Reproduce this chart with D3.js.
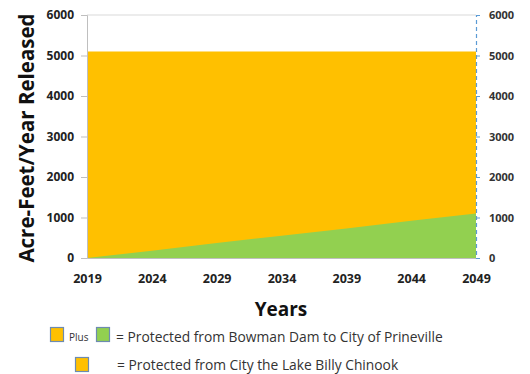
<!DOCTYPE html>
<html><head><meta charset="utf-8">
<script src="https://cdn.jsdelivr.net/npm/d3@7"></script>
<style>body{margin:0;background:#fff}svg{display:block}</style>
</head><body>
<svg id="c" width="530" height="374"></svg>
<script>
const years = [2019, 2024, 2029, 2034, 2039, 2044, 2049];
const totalReleased = [5100, 5100, 5100, 5100, 5100, 5100, 5100];
const bowmanToPrineville = [0, 180, 370, 550, 730, 920, 1100];
const yTicks = [0, 1000, 2000, 3000, 4000, 5000, 6000];
const xTickLabels = ["2019", "2024", "2029", "2034", "2039", "2044", "2049"];
const legendLabels = ["= Protected from Bowman Dam to City of Prineville", "= Protected from City the Lake Billy Chinook"];

const svg = d3.select("#c");
const L = 87, R = 476, T = 15, B = 258;
const x = d3.scaleLinear().domain([2019, 2049]).range([L, R]);
const y = d3.scaleLinear().domain([0, 6000]).range([B, T]);
const font = "'Open Sans', sans-serif";
const orange = "#FFC000", green = "#92D050";

const data = years.map((yr, i) => ({yr, total: totalReleased[i], green: bowmanToPrineville[i]}));

// top gridline
svg.append("line").attr("x1", L).attr("x2", R).attr("y1", y(6000)).attr("y2", y(6000)).attr("stroke", "#d9d9d9");

svg.append("path").datum(data)
  .attr("d", d3.area().x(d => x(d.yr)).y0(y(0)).y1(d => y(d.total)))
  .attr("fill", orange);
svg.append("path").datum(data)
  .attr("d", d3.area().x(d => x(d.yr)).y0(y(0)).y1(d => y(d.green)))
  .attr("fill", green);

// left axis
const ya = svg.append("g").attr("transform", `translate(${L},0)`)
  .call(d3.axisLeft(y).tickValues(yTicks).tickFormat(d3.format("d")).tickSize(6).tickPadding(7));
ya.select(".domain").attr("stroke", "#bfbfbf");
ya.selectAll(".tick line").attr("stroke", "#bfbfbf");
ya.selectAll("text").attr("font-family", font).attr("font-weight", "bold").attr("font-size", 12).attr("fill", "#222");

// bottom axis
const xa = svg.append("g").attr("transform", `translate(0,${B})`)
  .call(d3.axisBottom(x).tickValues(years).tickFormat((d, i) => xTickLabels[i]).tickSize(0).tickPadding(16));
xa.select(".domain").attr("stroke", "#bfbfbf");
xa.selectAll("text").attr("font-family", font).attr("font-weight", "bold").attr("font-size", 12.5).attr("fill", "#222");

// right axis
const yr = svg.append("g").attr("transform", `translate(${R},0)`)
  .call(d3.axisRight(y).tickValues(yTicks).tickFormat(d3.format("d")).tickSize(4).tickPadding(9));
yr.select(".domain").attr("stroke", "#5b9bd5").attr("stroke-dasharray", "4,3").attr("stroke-width", 1.2);
yr.selectAll(".tick line").attr("stroke", "#5b9bd5");
yr.selectAll("text").attr("font-family", font).attr("font-weight", "bold").attr("font-size", 11).attr("fill", "#333");

// titles
svg.append("text").attr("transform", `translate(34,138) rotate(-90)`).attr("text-anchor", "middle")
  .attr("font-family", font).attr("font-weight", "bold").attr("font-size", 20.5).attr("fill", "#111")
  .text("Acre-Feet/Year Released");
svg.append("text").attr("x", 281).attr("y", 316).attr("text-anchor", "middle")
  .attr("font-family", font).attr("font-weight", "bold").attr("font-size", 19).attr("fill", "#111")
  .text("Years");

// legend
function box(px, py, fill) {
  svg.append("rect").attr("x", px).attr("y", py).attr("width", 13).attr("height", 14)
    .attr("fill", fill).attr("stroke", "#6d8bb0").attr("stroke-width", 1.2);
}
box(50.5, 327.5, orange);
svg.append("text").attr("x", 69).attr("y", 341).attr("font-family", font).attr("font-size", 10).attr("fill", "#333").text("Plus");
box(96.5, 327.5, green);
svg.append("text").attr("x", 116).attr("y", 342).attr("font-family", font).attr("font-size", 13.8).attr("fill", "#333").text(legendLabels[0]);
box(75.5, 357.5, orange);
svg.append("text").attr("x", 117).attr("y", 370).attr("font-family", font).attr("font-size", 13.8).attr("fill", "#333").text(legendLabels[1]);
</script>
</body></html>
